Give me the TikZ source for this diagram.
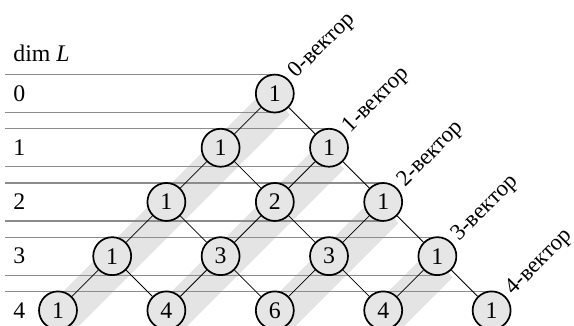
\documentclass[tikz,border=0pt]{standalone}
\usepackage{fontspec}
\setmainfont{Liberation Serif}
\usepackage{tikz}
\usetikzlibrary{positioning, calc, backgrounds}
\definecolor{bandgrey}{HTML}{E4E4E4}
\definecolor{cellgrey}{HTML}{E6E6E6}
\definecolor{rulegrey}{HTML}{8C8C8C}

\begin{document}
\begin{tikzpicture}[
    font=\fontsize{12.5}{14}\selectfont,
    binom/.style={circle, draw=black, line width=0.9pt, fill=cellgrey, minimum size=0.7cm, inner sep=0pt},
    edge/.style={black, line width=0.4pt},
    rowrule/.style={rulegrey, line width=0.6pt},
    band/.style={bandgrey, line width=0.654cm, line cap=butt},
    veclabel/.style={rotate=45, anchor=west, inner sep=3pt, font=\fontsize{12}{14}\selectfont},
    rowlabel/.style={anchor=west, inner sep=0pt}
  ]
  \useasboundingbox (0,0) rectangle (10.59,5.996);

  % header and row numbers
  \node[rowlabel] (dim) at (0.24, 5.02) {dim \textit{L}};
  \node[rowlabel] (r0) at (0.24, 4.27) {0};
  \node[rowlabel] (r1) at (0.24, 3.27) {1};
  \node[rowlabel] (r2) at (0.24, 2.27) {2};
  \node[rowlabel] (r3) at (0.24, 1.27) {3};
  \node[rowlabel] (r4) at (0.24, 0.27) {4};

  % Pascal triangle
  \node[binom] (n00) at (5.07, 4.27) {1};

  \node[binom] (n10) at (4.07, 3.27) {1};
  \node[binom] (n11) at (6.07, 3.27) {1};

  \node[binom] (n20) at (3.07, 2.27) {1};
  \node[binom] (n21) at (5.07, 2.27) {2};
  \node[binom] (n22) at (7.07, 2.27) {1};

  \node[binom] (n30) at (2.07, 1.27) {1};
  \node[binom] (n31) at (4.07, 1.27) {3};
  \node[binom] (n32) at (6.07, 1.27) {3};
  \node[binom] (n33) at (8.07, 1.27) {1};

  \node[binom] (n40) at (1.07, 0.27) {1};
  \node[binom] (n41) at (3.07, 0.27) {4};
  \node[binom] (n42) at (5.07, 0.27) {6};
  \node[binom] (n43) at (7.07, 0.27) {4};
  \node[binom] (n44) at (9.07, 0.27) {1};

  % k-vector labels
  \node[veclabel] (v0) at (n00.45) {0-вектор};
  \node[veclabel] (v1) at (n11.45) {1-вектор};
  \node[veclabel] (v2) at (n22.45) {2-вектор};
  \node[veclabel] (v3) at (n33.45) {3-вектор};
  \node[veclabel] (v4) at (n44.45) {4-вектор};

  \begin{scope}[on background layer]
    % grey bands along the diagonals
    \draw[band] ([shift={(0.05,-0.16)}]n00.center) -- ([shift={(0.05,-0.16)}]n40.center);
    \draw[band] ([shift={(0.05,-0.16)}]n11.center) -- ([shift={(0.05,-0.16)}]n41.center);
    \draw[band] ([shift={(0.05,-0.16)}]n22.center) -- ([shift={(0.05,-0.16)}]n42.center);
    \draw[band] ([shift={(0.05,-0.16)}]n33.center) -- ([shift={(0.05,-0.16)}]n43.center);

    % row rules
    \draw[rowrule] (0.09, 4.62) -- (5.07, 4.62) (0.09, 3.92) -- (5.07, 3.92);
    \draw[rowrule] (0.09, 3.62) -- (6.07, 3.62) (0.09, 2.92) -- (6.07, 2.92);
    \draw[rowrule] (0.09, 2.62) -- (7.07, 2.62) (0.09, 1.92) -- (7.07, 1.92);
    \draw[rowrule] (0.09, 1.62) -- (8.07, 1.62) (0.09, 0.92) -- (8.07, 0.92);
    \draw[rowrule] (0.09, 0.62) -- (9.07, 0.62) (0.09, -0.08) -- (9.07, -0.08);

    % connectors
    \draw[edge] (n00) -- (n10) (n00) -- (n11);
    \draw[edge] (n10) -- (n20) (n10) -- (n21) (n11) -- (n21) (n11) -- (n22);
    \draw[edge] (n20) -- (n30) (n20) -- (n31) (n21) -- (n31) (n21) -- (n32) (n22) -- (n32) (n22) -- (n33);
    \draw[edge] (n30) -- (n40) (n30) -- (n41) (n31) -- (n41) (n31) -- (n42) (n32) -- (n42) (n32) -- (n43) (n33) -- (n43) (n33) -- (n44);
  \end{scope}
\end{tikzpicture}
\end{document}
